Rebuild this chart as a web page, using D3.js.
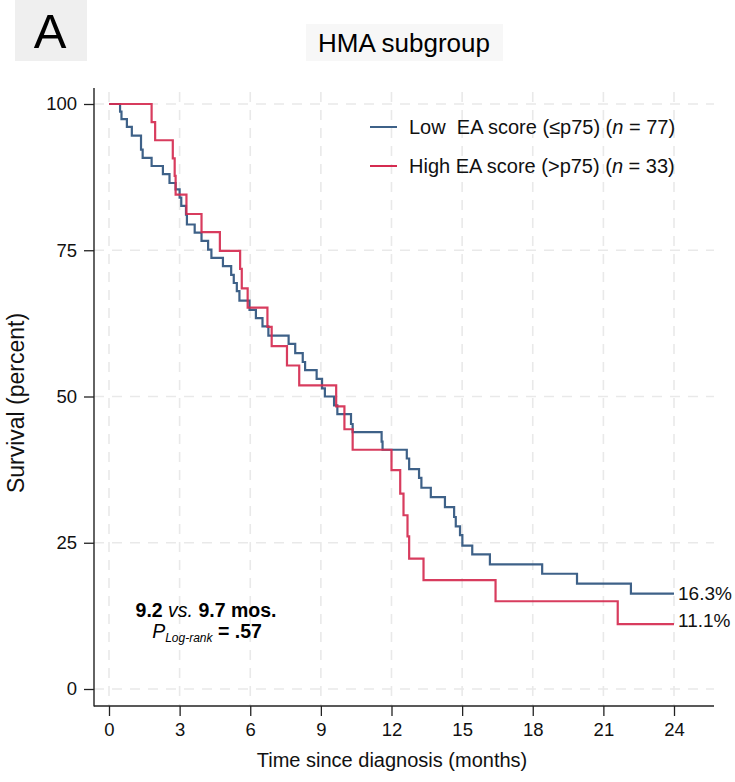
<!DOCTYPE html>
<html>
<head>
<meta charset="utf-8">
<script src="https://cdn.jsdelivr.net/npm/d3@7"></script>
<style>
  html, body { margin: 0; padding: 0; background: #ffffff; }
  svg { display: block; font-family: Arial, "Liberation Sans", Helvetica, sans-serif; }
</style>
</head>
<body>
<svg id="chart" width="735" height="782"></svg>
<script>
// ---------------- data ----------------
const panelLetter = "A";
const chartTitle = "HMA subgroup";
const xTicks = [0, 3, 6, 9, 12, 15, 18, 21, 24];
const yTicks = [0, 25, 50, 75, 100];
const xLabel = "Time since diagnosis (months)";
const yLabel = "Survival (percent)";

const seriesNames = ["Low  EA score (\u2264p75) (", "High EA score (>p75) ("];
const seriesN = [77, 33];
const endLabels = ["16.3%", "11.1%"];

// Low EA score: step times (months) and survival (%)
const lowTimes = [0, 0.47, 0.53, 0.76, 0.97, 1.36, 1.43, 1.81, 2.29, 2.57, 2.83, 3.0, 3.07, 3.27, 3.31,
  3.64, 3.93, 4.21, 4.35, 4.84, 5.19, 5.30, 5.43, 5.54, 5.97, 6.24, 6.52, 6.77, 7.63, 7.91, 8.23, 8.33,
  8.82, 9.05, 9.17, 9.56, 9.70, 10.28, 10.35, 11.58, 11.62, 12.65, 12.75, 13.17, 13.27, 13.67, 14.27,
  14.66, 14.73, 14.91, 15.01, 15.43, 16.18, 18.40, 19.88, 22.17, 24];
const lowSurv = [100, 98.7, 97.4, 96.1, 94.6, 92.2, 90.8, 89.4, 88.0, 86.5, 85.4, 84.0, 82.6, 81.1, 79.4,
  78.0, 76.6, 75.1, 73.7, 72.3, 70.8, 69.4, 68.0, 66.4, 64.8, 63.4, 62.0, 60.4, 59.0, 57.4, 55.9, 54.5,
  53.0, 51.4, 50.0, 48.5, 47.0, 45.3, 43.9, 42.3, 40.9, 39.4, 37.6, 36.1, 34.4, 32.8, 31.1,
  29.4, 27.8, 26.3, 24.5, 23.0, 21.3, 19.7, 18.0, 16.3, 16.3];

// High EA score
const highTimes = [0, 1.81, 1.96, 2.71, 2.79, 2.83, 3.29, 3.93, 4.71, 5.57, 5.64, 5.89, 6.73, 6.91, 7.56,
  8.08, 9.65, 10.0, 10.35, 12.0, 12.37, 12.51, 12.68, 12.75, 13.36, 16.42, 21.61, 24];
const highSurv = [100, 96.9, 93.8, 90.7, 87.7, 84.5, 81.2, 78.1, 74.9, 71.8, 68.5, 65.2, 61.9, 58.6, 55.3,
  51.9, 48.3, 44.4, 40.9, 37.4, 33.4, 29.7, 26.1, 22.3, 18.6, 15.0, 11.1, 11.1];

const seriesColors = ["#3e6188", "#d52b50"];

// ---------------- layout ----------------
const svg = d3.select("#chart");
const frame = { left: 94, right: 714, top: 88, bottom: 706 };
const x = d3.scaleLinear().domain([0, 24]).range([109, 674]);
const y = d3.scaleLinear().domain([0, 100]).range([689, 104]);

// panel letter box
svg.append("rect").attr("x", 15).attr("y", 0).attr("width", 72).attr("height", 61).attr("fill", "#efefef");
svg.append("text").attr("x", 50).attr("y", 48).attr("text-anchor", "middle")
  .attr("font-size", 49).attr("fill", "#000").text(panelLetter);

// title box
svg.append("rect").attr("x", 306).attr("y", 24).attr("width", 197).attr("height", 37).attr("fill", "#f7f7f7");
svg.append("text").attr("x", 404).attr("y", 52).attr("text-anchor", "middle")
  .attr("font-size", 26).attr("fill", "#000").text(chartTitle);

// gridlines
const grid = svg.append("g").attr("stroke", "#e9e9e9").attr("stroke-width", 1.6)
  .attr("stroke-dasharray", "10,8");
grid.selectAll("line.v").data(xTicks).join("line").attr("class", "v")
  .attr("x1", d => x(d)).attr("x2", d => x(d))
  .attr("y1", frame.top + 4).attr("y2", frame.bottom);
grid.selectAll("line.h").data(yTicks).join("line").attr("class", "h")
  .attr("x1", frame.left).attr("x2", frame.right)
  .attr("y1", d => y(d)).attr("y2", d => y(d));

// axes
const xAxis = d3.axisBottom(x).tickValues(xTicks).tickSize(10).tickPadding(7).tickFormat(d3.format("d"));
const yAxis = d3.axisLeft(y).tickValues(yTicks).tickSize(10).tickPadding(7).tickFormat(d3.format("d"));

const gx = svg.append("g").attr("transform", `translate(0,${frame.bottom})`).call(xAxis);
gx.select(".domain").remove();
gx.selectAll("line").attr("stroke", "#222").attr("stroke-width", 1.3);
gx.selectAll("text").attr("font-size", 18.5).attr("fill", "#111").attr("font-family", "Arial, 'Liberation Sans', sans-serif");

const gy = svg.append("g").attr("transform", `translate(${frame.left},0)`).call(yAxis);
gy.select(".domain").remove();
gy.selectAll("line").attr("stroke", "#222").attr("stroke-width", 1.3);
gy.selectAll("text").attr("font-size", 18.5).attr("fill", "#111").attr("font-family", "Arial, 'Liberation Sans', sans-serif");

svg.append("line").attr("x1", frame.left).attr("x2", frame.left).attr("y1", frame.top).attr("y2", frame.bottom + 0.5)
  .attr("stroke", "#222").attr("stroke-width", 1.4);
svg.append("line").attr("x1", frame.left).attr("x2", frame.right).attr("y1", frame.bottom).attr("y2", frame.bottom)
  .attr("stroke", "#222").attr("stroke-width", 1.4);

// axis titles
svg.append("text").attr("x", 392).attr("y", 767).attr("text-anchor", "middle")
  .attr("font-size", 20).attr("fill", "#111").text(xLabel);
svg.append("text").attr("transform", "translate(24,403) rotate(-90)").attr("text-anchor", "middle")
  .attr("font-size", 23).attr("fill", "#111").text(yLabel);

// curves
const line = d3.line().x(d => x(d[0])).y(d => y(d[1])).curve(d3.curveStepAfter);
const series = [d3.zip(lowTimes, lowSurv), d3.zip(highTimes, highSurv)];
series.forEach((s, i) => {
  svg.append("path").datum(s).attr("d", line).attr("fill", "none")
    .attr("stroke", seriesColors[i]).attr("stroke-width", 2.2)
    .attr("stroke-opacity", i === 1 ? 0.92 : 1);
});

// end labels
series.forEach((s, i) => {
  const last = s[s.length - 1];
  svg.append("text").attr("x", x(last[0]) + 4).attr("y", y(last[1]) + (i === 1 ? -4 : 0)).attr("dy", "0.36em")
    .attr("font-size", 19).attr("fill", "#111").text(endLabels[i]);
});

// legend
const legend = svg.append("g");
seriesNames.forEach((name, i) => {
  const ly = 127 + i * 39;
  legend.append("line").attr("x1", 370).attr("x2", 397).attr("y1", ly).attr("y2", ly)
    .attr("stroke", seriesColors[i]).attr("stroke-width", 2);
  const t = legend.append("text").attr("x", 409).attr("y", ly).attr("dy", "0.36em")
    .attr("font-size", 20).attr("fill", "#111").style("white-space", "pre");
  t.append("tspan").text(name);
  t.append("tspan").attr("font-style", "italic").text("n");
  t.append("tspan").text(" = " + seriesN[i] + ")");
});

// annotation
const ann = svg.append("g").attr("fill", "#000");
const a1 = ann.append("text").attr("x", 206).attr("y", 617).attr("text-anchor", "middle").attr("font-size", 19.5)
  .style("white-space", "pre");
a1.append("tspan").attr("font-weight", "bold").text("9.2 ");
a1.append("tspan").attr("font-style", "italic").text("vs.");
a1.append("tspan").attr("font-weight", "bold").text(" 9.7 mos.");
const a2 = ann.append("text").attr("x", 207).attr("y", 638).attr("text-anchor", "middle").attr("font-size", 19.5)
  .style("white-space", "pre");
a2.append("tspan").attr("font-style", "italic").text("P");
a2.append("tspan").attr("font-style", "italic").attr("font-size", 12).attr("dy", 4).text("Log-rank");
a2.append("tspan").attr("font-weight", "bold").attr("dy", -4).text(" = .57");
</script>
</body>
</html>
